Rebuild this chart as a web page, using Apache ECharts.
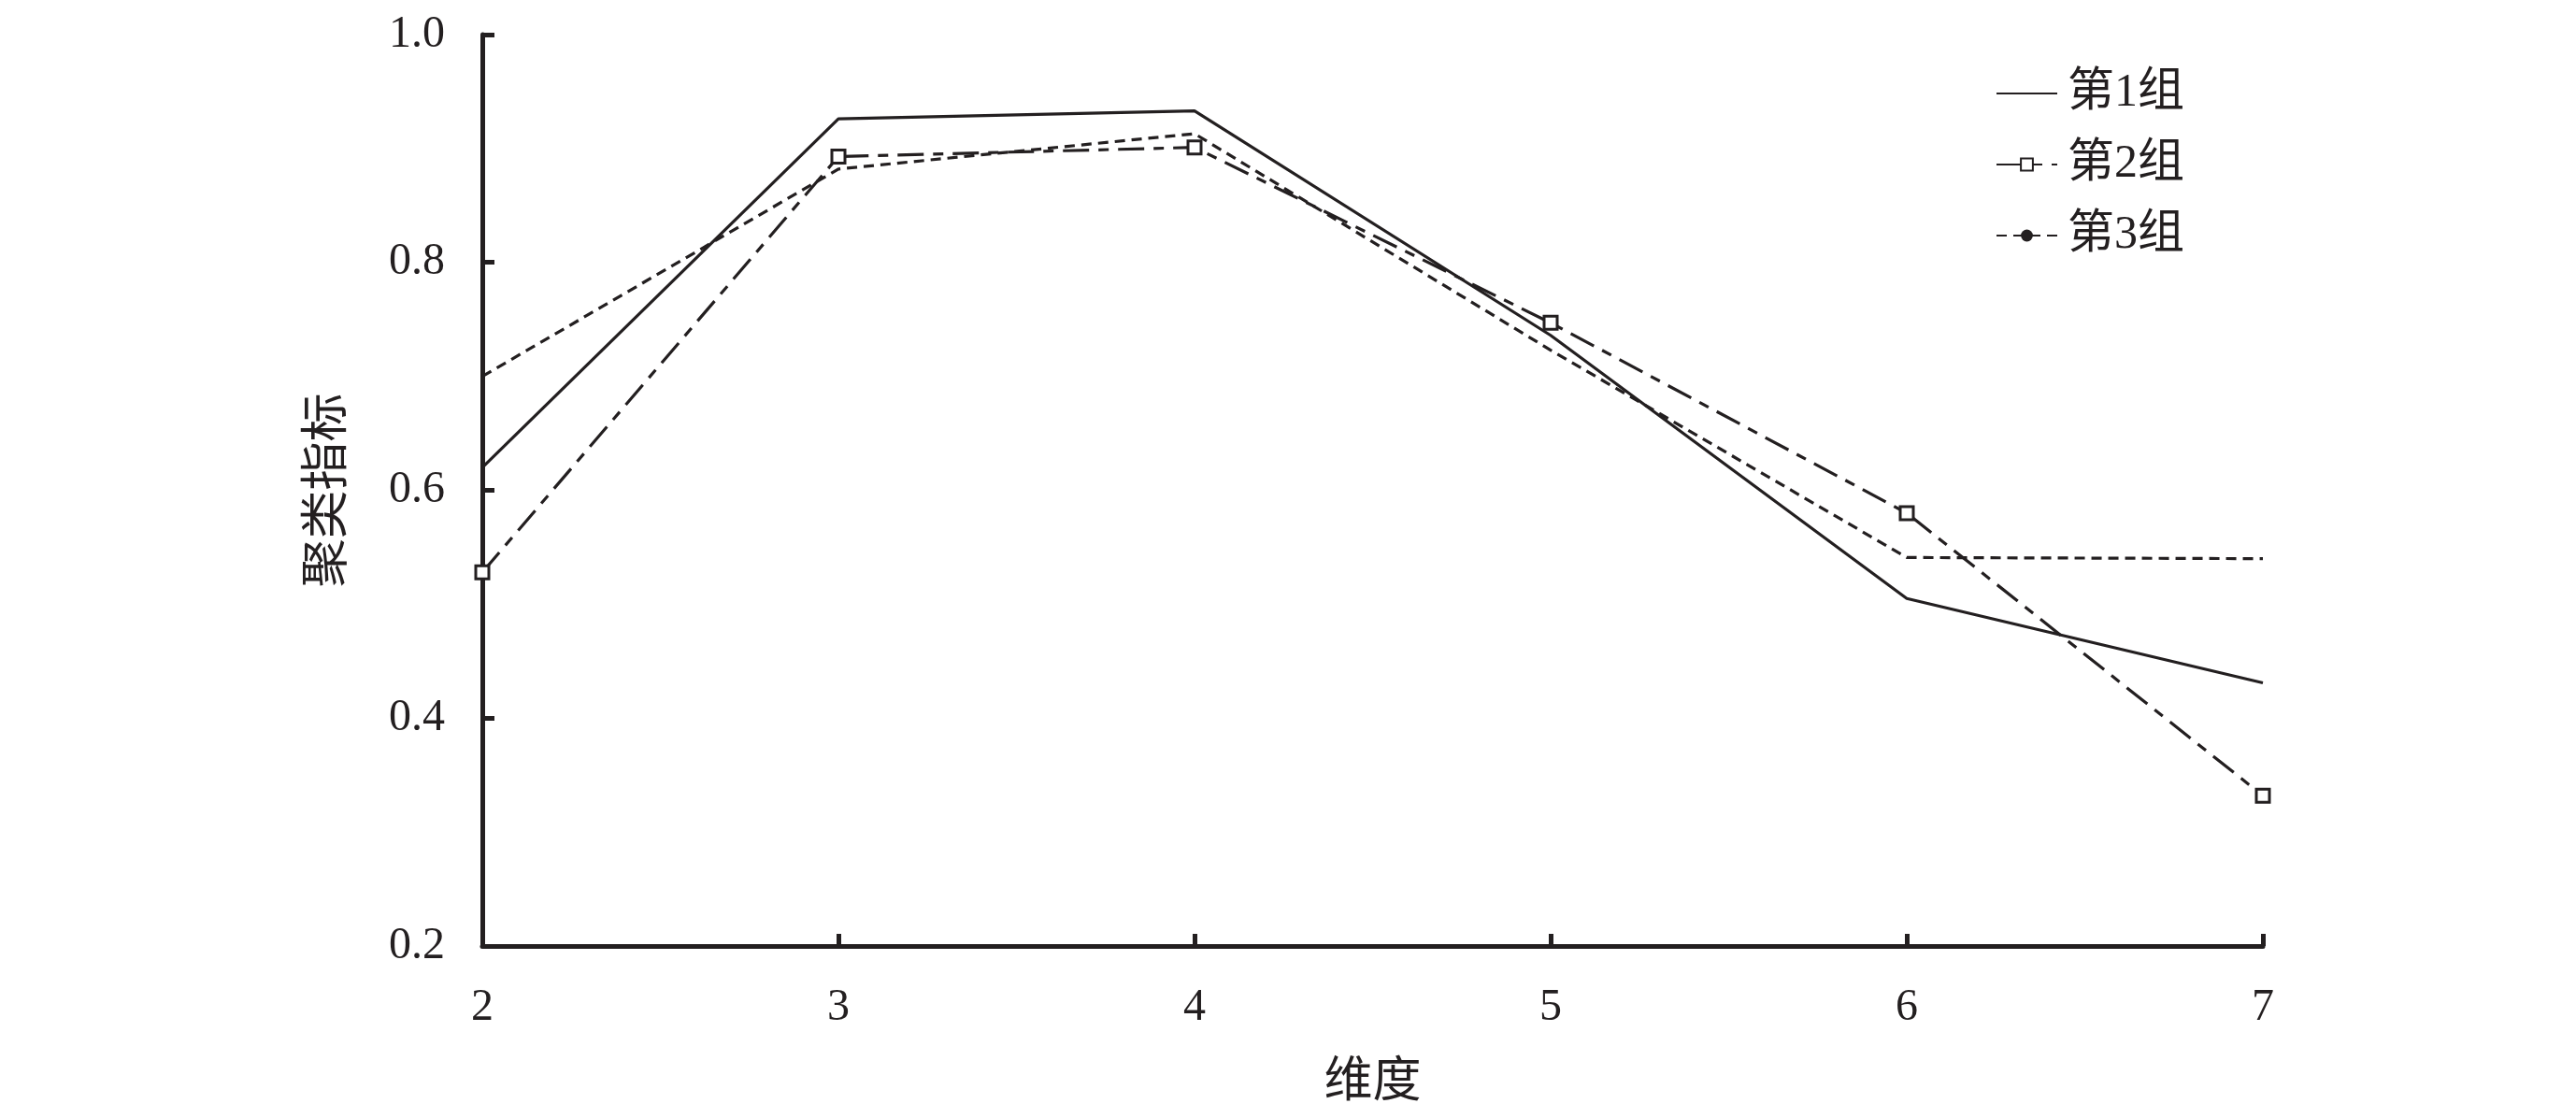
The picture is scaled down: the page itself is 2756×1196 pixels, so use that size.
<!DOCTYPE html>
<html>
<head>
<meta charset="utf-8">
<script src="https://cdn.jsdelivr.net/npm/echarts@6/dist/echarts.min.js"></script>
<style>
html,body{margin:0;padding:0;background:#fff;}
#chart{width:2756px;height:1196px;}
</style>
</head>
<body>
<div id="chart"></div>
<script>
const dims = [2, 3, 4, 5, 6, 7];
const group1 = [0.620, 0.926, 0.933, 0.736, 0.505, 0.431];
const group2 = [0.528, 0.893, 0.901, 0.747, 0.580, 0.332];
const group3 = [0.700, 0.882, 0.913, 0.723, 0.541, 0.540];
const seriesNames = ['第1组', '第2组', '第3组'];
const xTitle = '维度';
const yTitle = '聚类指标';

const ink = '#231f20';
const fontLatin = '"Liberation Serif", "Noto Sans CJK SC", serif';

function pairs(vals) { return dims.map((d, i) => [d, vals[i]]); }

const chart = echarts.init(document.getElementById('chart'), null, {renderer: 'canvas'});
chart.setOption({
  backgroundColor: '#ffffff',
  animation: false,
  grid: {left: 516, right: 335, top: 37, bottom: 184, containLabel: false},
  legend: {
    orient: 'vertical',
    left: 2130,
    top: 69,
    itemWidth: 65,
    itemHeight: 16,
    itemGap: 24,
    selectedMode: false,
    textStyle: {fontFamily: fontLatin, fontSize: 50, color: ink, lineHeight: 52, padding: [0, 0, 0, 6]},
    data: [
      {name: seriesNames[0], itemStyle: {opacity: 0}},
      {name: seriesNames[1]},
      {name: seriesNames[2]}
    ]
  },
  xAxis: {
    type: 'value',
    min: 2, max: 7, interval: 1,
    name: xTitle,
    nameLocation: 'middle',
    nameGap: 121,
    nameTextStyle: {fontFamily: fontLatin, fontSize: 52, color: ink},
    axisLine: {show: true, lineStyle: {color: ink, width: 5}},
    axisTick: {show: true, inside: true, length: 13, lineStyle: {color: ink, width: 5}},
    axisLabel: {fontFamily: fontLatin, fontSize: 48, color: ink, margin: 42},
    splitLine: {show: false}
  },
  yAxis: {
    type: 'value',
    min: 0.2, max: 1.0, interval: 0.2,
    name: yTitle,
    nameLocation: 'middle',
    nameGap: 138,
    nameTextStyle: {fontFamily: fontLatin, fontSize: 52, color: ink},
    axisLine: {show: true, lineStyle: {color: ink, width: 5}},
    axisTick: {show: true, inside: true, length: 13, lineStyle: {color: ink, width: 5}},
    axisLabel: {fontFamily: fontLatin, fontSize: 48, color: ink, margin: 40,
      formatter: v => v.toFixed(1)},
    splitLine: {show: false}
  },
  series: [
    {
      name: seriesNames[0], type: 'line', data: pairs(group1),
      symbol: 'none', z: 3,
      lineStyle: {color: ink, width: 3.2, type: 'solid'},
      itemStyle: {color: ink}
    },
    {
      name: seriesNames[1], type: 'line', data: pairs(group2),
      symbol: 'rect', symbolSize: 14, z: 4,
      lineStyle: {color: ink, width: 3.2, type: [28, 10, 11, 10]},
      itemStyle: {color: '#ffffff', borderColor: ink, borderWidth: 3}
    },
    {
      name: seriesNames[2], type: 'line', data: pairs(group3),
      symbol: 'circle', symbolSize: 10, showSymbol: false, z: 2,
      lineStyle: {color: ink, width: 3.2, type: [11, 7]},
      itemStyle: {color: ink}
    }
  ]
});
</script>
</body>
</html>
